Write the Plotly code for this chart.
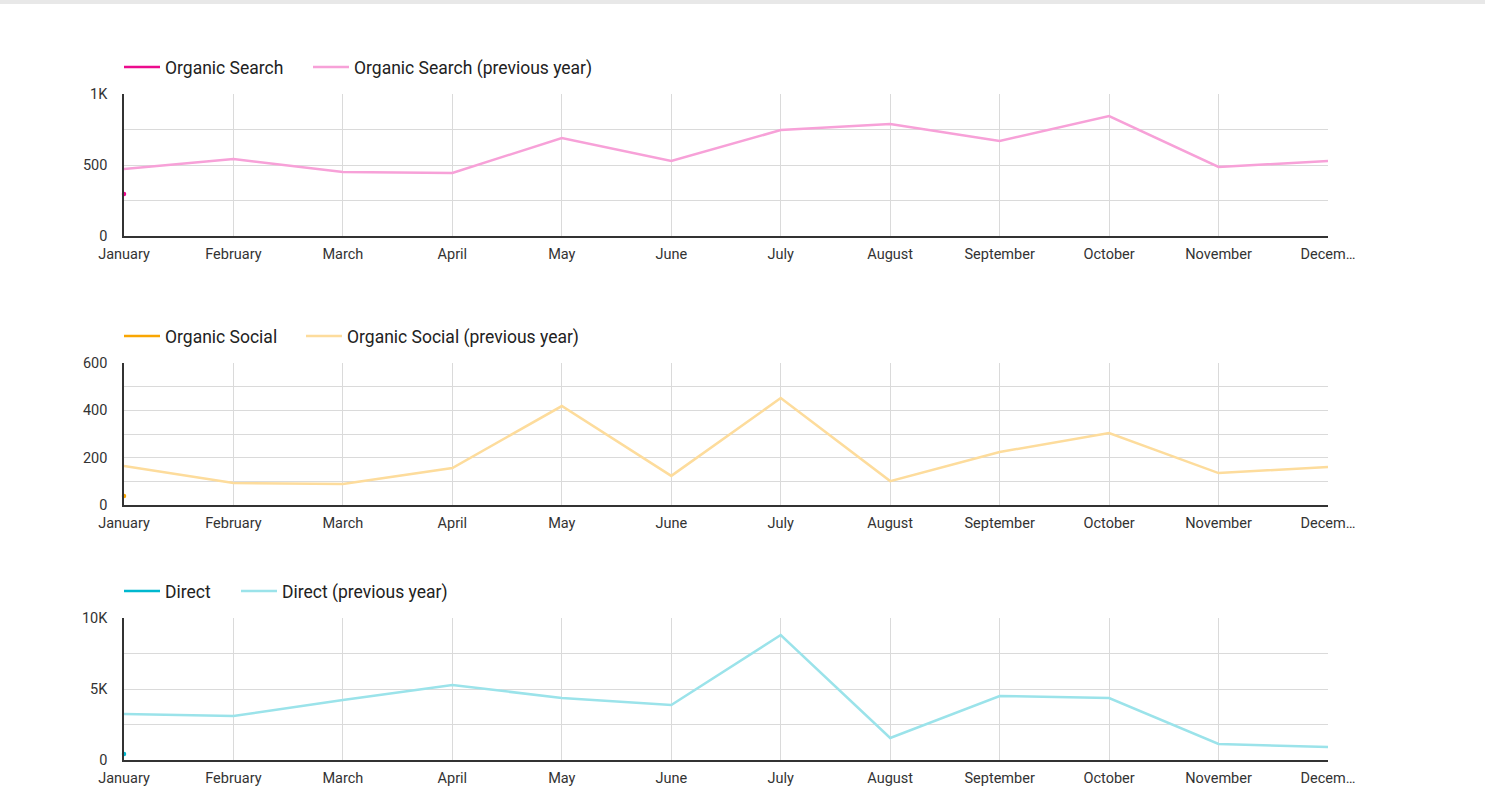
import plotly.graph_objects as go

months = ["January", "February", "March", "April", "May", "June", "July",
          "August", "September", "October", "November", "December"]
month_labels = ["January", "February", "March", "April", "May", "June", "July",
                "August", "September", "October", "November", "Decem…"]

search_prev = [472, 542, 451, 444, 690, 528, 746, 789, 669, 845, 486, 528]
search_curr = [296] + [None] * 11

social_prev = [165, 93, 89, 156, 418, 123, 452, 101, 224, 304, 135, 161]
social_curr = [38] + [None] * 11

direct_prev = [3240, 3100, 4225, 5280, 4366, 3873, 8800, 1550, 4507, 4366, 1127, 915]
direct_curr = [420] + [None] * 11

W, H = 1485, 808
panels = [
    dict(name="Organic Search", curr=search_curr, prev=search_prev,
         c1="#ec0b8d", c2="#f7a1d8", rng=[0, 1000],
         tv=[0, 250, 500, 750, 1000], tt=["0", "", "500", "", "1K"],
         dom=[1 - 236 / H, 1 - 94 / H], ly=1 - 67 / H, lx=[124, 313]),
    dict(name="Organic Social", curr=social_curr, prev=social_prev,
         c1="#f9a602", c2="#fddc9c", rng=[0, 600],
         tv=[0, 100, 200, 300, 400, 500, 600], tt=["0", "", "200", "", "400", "", "600"],
         dom=[1 - 505 / H, 1 - 363 / H], ly=1 - 336 / H, lx=[124, 306]),
    dict(name="Direct", curr=direct_curr, prev=direct_prev,
         c1="#00b8cf", c2="#9be3ea", rng=[0, 10000],
         tv=[0, 2500, 5000, 7500, 10000], tt=["0", "", "5K", "", "10K"],
         dom=[1 - 760 / H, 1 - 618 / H], ly=1 - 591 / H, lx=[124, 241]),
]

fig = go.Figure()
font_family = "Roboto"
x0 = 124 / W
x1 = 1328 / W

legend_layout = {}
for i, p in enumerate(panels):
    n = i + 1
    xa = "x" if n == 1 else f"x{n}"
    ya = "y" if n == 1 else f"y{n}"
    lgA = "legend" if n == 1 else f"legend{2 * n - 1}"
    lgB = f"legend{2 * n}"
    # legend entry for current-year series (line symbol only)
    fig.add_trace(go.Scatter(x=[None], y=[None], name=p["name"], mode="lines",
                             line=dict(color=p["c1"], width=2.5),
                             xaxis=xa, yaxis=ya, legend=lgA, legendgroup=f"c{n}"))
    fig.add_trace(go.Scatter(x=months, y=p["curr"], name=p["name"], mode="markers",
                             marker=dict(size=4.5, color=p["c1"]), showlegend=False,
                             xaxis=xa, yaxis=ya, legendgroup=f"c{n}", cliponaxis=False))
    fig.add_trace(go.Scatter(x=months, y=p["prev"], name=p["name"] + " (previous year)",
                             mode="lines", line=dict(color=p["c2"], width=2.5),
                             xaxis=xa, yaxis=ya, legend=lgB))
    xkey = "xaxis" if n == 1 else f"xaxis{n}"
    ykey = "yaxis" if n == 1 else f"yaxis{n}"
    for lg, lx in ((lgA, p["lx"][0]), (lgB, p["lx"][1])):
        legend_layout[lg] = dict(orientation="h", x=(lx - 5) / W, xanchor="left", y=p["ly"],
                                 yanchor="middle", borderwidth=0, itemwidth=36,
                                 font=dict(size=17.5, color="#222", family=font_family),
                                 bgcolor="rgba(0,0,0,0)")
    fig.update_layout(**{
        xkey: dict(domain=[x0, x1], anchor=ya, type="category", range=[0, 11],
                   tickvals=months, ticktext=month_labels, showgrid=True,
                   gridcolor="#dadada", gridwidth=1.2, showline=True, linecolor="#333",
                   linewidth=1.5, ticks="", ticklabelstandoff=4, automargin=False,
                   tickfont=dict(size=14.5, color="#333", family=font_family),
                   zeroline=False, fixedrange=True),
        ykey: dict(domain=p["dom"], anchor=xa, range=p["rng"], tickvals=p["tv"],
                   ticktext=p["tt"], showgrid=True, gridcolor="#dadada", gridwidth=1.2,
                   showline=True, linecolor="#333", linewidth=1.5, ticks="",
                   ticklabelstandoff=12, automargin=False,
                   tickfont=dict(size=14.5, color="#333", family=font_family),
                   zeroline=False, fixedrange=True),
    })

fig.update_layout(**legend_layout)

fig.add_shape(type="rect", xref="paper", yref="paper", x0=0, x1=1, y0=1 - 4 / H, y1=1,
              fillcolor="#e8e8e8", line=dict(width=0), layer="above")

fig.update_layout(width=W, height=H, margin=dict(l=0, r=0, t=0, b=0, pad=0, autoexpand=False),
                  paper_bgcolor="white", plot_bgcolor="white", showlegend=True,
                  font=dict(family=font_family))

fig.write_html("out.html")
